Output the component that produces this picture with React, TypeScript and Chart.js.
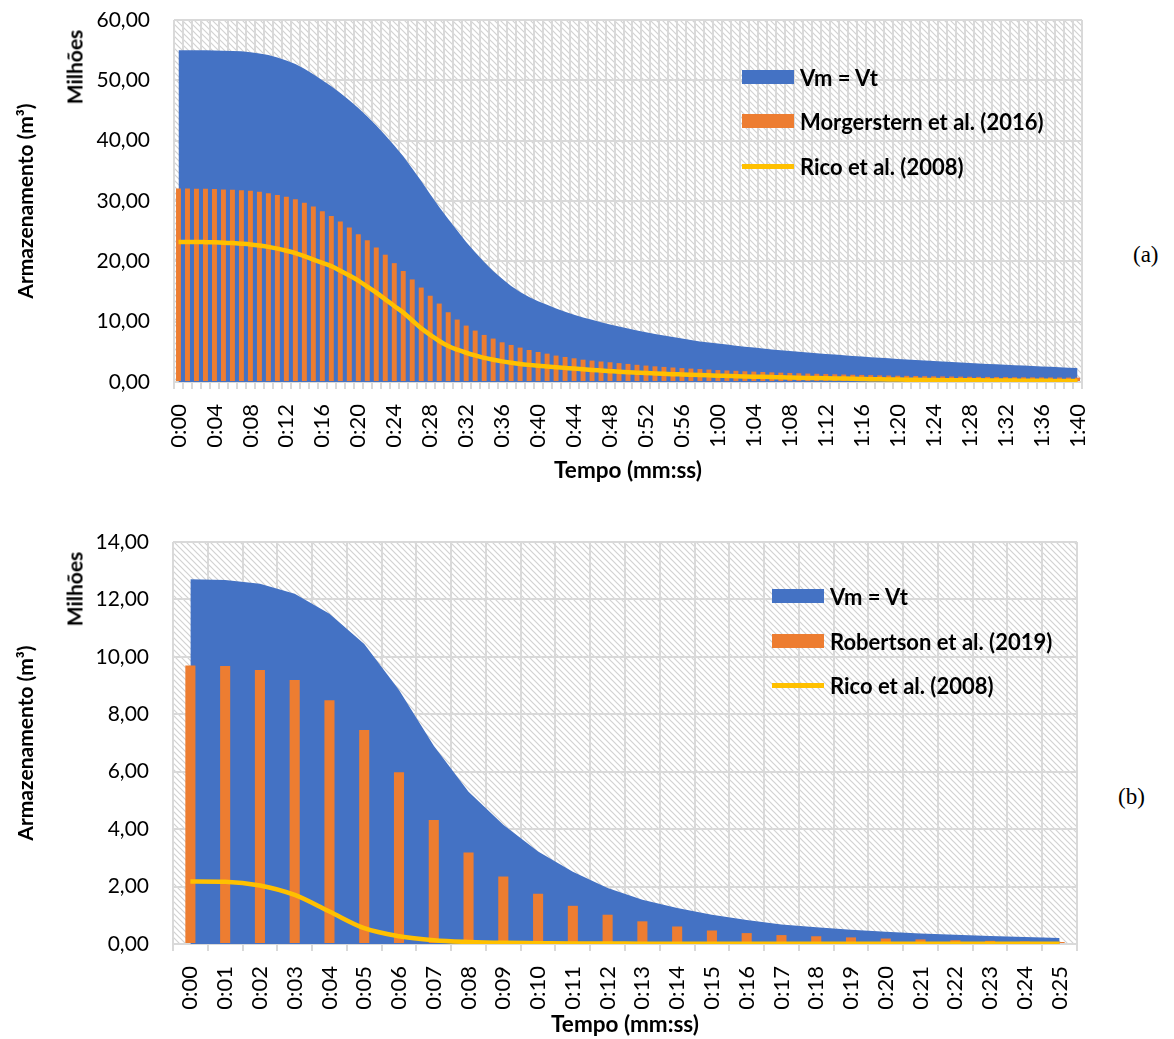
import React, { useEffect, useRef } from 'react';
import { Chart, registerables } from 'chart.js';

Chart.register(...registerables);

const BLUE = '#4472C4';
const ORANGE = '#ED7D31';
const YELLOW = '#FFC000';
const GRID = '#d9d9d9';
const FONT = 'Lato';

// ---------- Chart (a) ----------
const timeLabelsA = [
  '0:00', '0:01', '0:02', '0:03', '0:04', '0:05', '0:06', '0:07', '0:08', '0:09',
  '0:10', '0:11', '0:12', '0:13', '0:14', '0:15', '0:16', '0:17', '0:18', '0:19',
  '0:20', '0:21', '0:22', '0:23', '0:24', '0:25', '0:26', '0:27', '0:28', '0:29',
  '0:30', '0:31', '0:32', '0:33', '0:34', '0:35', '0:36', '0:37', '0:38', '0:39',
  '0:40', '0:41', '0:42', '0:43', '0:44', '0:45', '0:46', '0:47', '0:48', '0:49',
  '0:50', '0:51', '0:52', '0:53', '0:54', '0:55', '0:56', '0:57', '0:58', '0:59',
  '1:00', '1:01', '1:02', '1:03', '1:04', '1:05', '1:06', '1:07', '1:08', '1:09',
  '1:10', '1:11', '1:12', '1:13', '1:14', '1:15', '1:16', '1:17', '1:18', '1:19',
  '1:20', '1:21', '1:22', '1:23', '1:24', '1:25', '1:26', '1:27', '1:28', '1:29',
  '1:30', '1:31', '1:32', '1:33', '1:34', '1:35', '1:36', '1:37', '1:38', '1:39',
  '1:40',
];
const tickEveryA = 4;

const vmVtA = [
  55.0, 55.0, 55.0, 54.98, 54.95, 54.92, 54.88, 54.8, 54.65, 54.45,
  54.2, 53.8, 53.3, 52.7, 51.9, 51.0, 50.0, 49.0, 47.9, 46.7,
  45.4, 44.0, 42.5, 40.9, 39.2, 37.4, 35.4, 33.3, 31.1, 29.0,
  27.0, 25.1, 23.2, 21.5, 19.9, 18.4, 17.1, 15.9, 14.9, 14.1,
  13.4, 12.8, 12.2, 11.65, 11.15, 10.7, 10.3, 9.9, 9.55, 9.2,
  8.85, 8.55, 8.25, 7.95, 7.7, 7.45, 7.2, 6.95, 6.7, 6.55,
  6.4, 6.2, 6.02, 5.85, 5.7, 5.55, 5.4, 5.27, 5.14, 5.02,
  4.9, 4.78, 4.66, 4.55, 4.44, 4.33, 4.22, 4.12, 4.02, 3.92,
  3.83, 3.74, 3.65, 3.56, 3.48, 3.4, 3.32, 3.24, 3.16, 3.08,
  3.0, 2.93, 2.86, 2.79, 2.72, 2.65, 2.58, 2.51, 2.44, 2.37,
  2.3,
];

const morgersternA = [
  32.07, 32.07, 32.05, 32.05, 31.99, 31.9, 31.85, 31.8, 31.7, 31.55,
  31.3, 31.0, 30.7, 30.3, 29.7, 29.1, 28.3, 27.5, 26.6, 25.6,
  24.5, 23.5, 22.3, 21.1, 19.7, 18.4, 17.0, 15.65, 14.3, 13.0,
  11.56, 10.35, 9.35, 8.52, 7.8, 7.2, 6.58, 6.14, 5.7, 5.3,
  4.97, 4.7, 4.38, 4.15, 3.93, 3.7, 3.55, 3.4, 3.27, 3.13,
  3.0, 2.85, 2.72, 2.6, 2.5, 2.4, 2.3, 2.22, 2.14, 2.06,
  1.98, 1.91, 1.85, 1.78, 1.72, 1.66, 1.6, 1.55, 1.5, 1.45,
  1.4, 1.36, 1.32, 1.28, 1.24, 1.2, 1.17, 1.14, 1.1, 1.07,
  1.04, 1.02, 0.99, 0.97, 0.95, 0.93, 0.91, 0.89, 0.87, 0.85,
  0.84, 0.82, 0.81, 0.79, 0.78, 0.77, 0.76, 0.75, 0.74, 0.73,
  0.72,
];

const ricoA = [
  23.2, 23.2, 23.2, 23.18, 23.15, 23.1, 23.02, 22.92, 22.8, 22.62,
  22.4, 22.1, 21.75, 21.35, 20.85, 20.3, 19.75, 19.2, 18.45, 17.65,
  16.8, 15.8, 14.8, 13.7, 12.6, 11.5, 10.2, 8.9, 7.8, 6.8,
  5.95, 5.35, 4.85, 4.4, 4.0, 3.7, 3.42, 3.2, 3.0, 2.84,
  2.7, 2.58, 2.46, 2.34, 2.22, 2.11, 2.0, 1.9, 1.8, 1.7,
  1.62, 1.55, 1.48, 1.42, 1.36, 1.3, 1.25, 1.2, 1.15, 1.1,
  1.05, 1.01, 0.97, 0.93, 0.89, 0.85, 0.81, 0.77, 0.74, 0.71,
  0.68, 0.65, 0.62, 0.59, 0.56, 0.53, 0.5, 0.47, 0.45, 0.43,
  0.41, 0.39, 0.37, 0.35, 0.33, 0.31, 0.3, 0.29, 0.28, 0.27,
  0.26, 0.25, 0.24, 0.23, 0.22, 0.21, 0.2, 0.19, 0.18, 0.18,
  0.17,
];

// ---------- Chart (b) ----------
const timeLabelsB = [
  '0:00', '0:01', '0:02', '0:03', '0:04', '0:05', '0:06', '0:07', '0:08', '0:09',
  '0:10', '0:11', '0:12', '0:13', '0:14', '0:15', '0:16', '0:17', '0:18', '0:19',
  '0:20', '0:21', '0:22', '0:23', '0:24', '0:25',
];
const tickEveryB = 1;

const vmVtB = [
  12.7, 12.68, 12.55, 12.2, 11.5, 10.45, 8.85, 6.9, 5.3, 4.15,
  3.22, 2.52, 1.95, 1.54, 1.25, 1.02, 0.84, 0.68, 0.58, 0.5,
  0.43, 0.37, 0.32, 0.28, 0.24, 0.21,
];

const robertsonB = [
  9.7, 9.68, 9.54, 9.19, 8.49, 7.45, 5.98, 4.32, 3.19, 2.35,
  1.75, 1.33, 1.02, 0.79, 0.61, 0.47, 0.38, 0.31, 0.27, 0.23,
  0.19, 0.16, 0.13, 0.11, 0.09, 0.07,
];

const ricoB = [
  2.18, 2.17, 2.04, 1.71, 1.13, 0.55, 0.27, 0.13, 0.07, 0.04,
  0.03, 0.02, 0.02, 0.01, 0.01, 0.01, 0.01, 0.01, 0.01, 0.01,
  0.01, 0.01, 0.01, 0.01, 0.01, 0.01,
];

const yTicksA = { max: 60, step: 10 };
const yTicksB = { max: 14, step: 2 };

const fmt = (v: number) => v.toFixed(2).replace('.', ',');

const hatchPlugin = {
  id: 'hatchBg',
  beforeDraw(chart: any) {
    const { ctx, chartArea } = chart;
    if (!chartArea) return;
    const s = 6;
    const tile = document.createElement('canvas');
    tile.width = s;
    tile.height = s;
    const t = tile.getContext('2d')!;
    t.fillStyle = '#ffffff';
    t.fillRect(0, 0, s, s);
    t.strokeStyle = '#d2d2d2';
    t.lineWidth = 1.2;
    t.beginPath();
    t.moveTo(0, 0);
    t.lineTo(s, s);
    t.moveTo(-2, s - 2);
    t.lineTo(2, s + 2);
    t.moveTo(s - 2, -2);
    t.lineTo(s + 2, 2);
    t.stroke();
    const pat = ctx.createPattern(tile, 'repeat');
    ctx.save();
    ctx.fillStyle = pat;
    ctx.fillRect(chartArea.left, chartArea.top, chartArea.right - chartArea.left, chartArea.bottom - chartArea.top);
    ctx.restore();
  },
};

type Opts = {
  labels: string[];
  every: number;
  area: number[];
  bars: number[];
  line: number[];
  barLabel: string;
  barPct: number;
  yMax: number;
  yStep: number;
  W: number;
  H: number;
  left: number;
  top: number;
  right: number;
  bottom: number;
  xTitlePad: number;
};

function buildConfig(o: Opts): any {
  return {
    type: 'bar',
    data: {
      labels: o.labels,
      datasets: [
        {
          type: 'line',
          label: 'Rico et al. (2008)',
          data: o.line,
          borderColor: YELLOW,
          backgroundColor: YELLOW,
          borderWidth: 4.5,
          pointRadius: 0,
          fill: false,
          cubicInterpolationMode: 'monotone',
          order: 1,
        },
        {
          type: 'bar',
          label: o.barLabel,
          data: o.bars,
          backgroundColor: ORANGE,
          categoryPercentage: 1,
          barPercentage: o.barPct,
          order: 2,
        },
        {
          type: 'line',
          label: 'Vm = Vt',
          data: o.area,
          backgroundColor: BLUE,
          borderColor: BLUE,
          borderWidth: 0,
          pointRadius: 0,
          fill: 'origin',
          tension: 0,
          order: 3,
        },
      ],
    },
    options: {
      responsive: false,
      animation: false,
      events: [],
      layout: { padding: { left: 0, top: o.top, right: o.W - o.right, bottom: 0 } },
      plugins: { legend: { display: false }, tooltip: { enabled: false } },
      scales: {
        x: {
          offset: true,
          grid: { offset: true, color: GRID, lineWidth: 2, tickLength: 7, drawTicks: true },
          border: { color: GRID, width: 2 },
          ticks: {
            autoSkip: false,
            maxRotation: 90,
            minRotation: 90,
            padding: 15,
            color: '#000',
            font: { family: FONT, size: 22 },
            callback: (_v: any, i: number) => (i % o.every === 0 ? o.labels[i] : ''),
          },
          title: {
            display: true,
            text: 'Tempo (mm:ss)',
            color: '#000',
            font: { family: FONT, size: 22.5, weight: 'bold' },
            padding: { top: 0, bottom: o.xTitlePad },
          },
          afterFit: (s: any) => {
            s.height = o.H - o.bottom;
            s.paddingLeft = 0;
            s.paddingRight = 0;
          },
        },
        y: {
          min: 0,
          max: o.yMax,
          ticks: {
            stepSize: o.yStep,
            padding: 24,
            color: '#000',
            font: { family: FONT, size: 21 },
            callback: (v: any) => fmt(Number(v)),
          },
          grid: { color: GRID, lineWidth: 2, drawTicks: false },
          border: { display: false },
          title: {
            display: true,
            text: 'Armazenamento (m³)',
            color: '#000',
            font: { family: FONT, size: 21, weight: 'bold' },
            padding: { top: 14, bottom: 0 },
          },
          afterFit: (s: any) => {
            s.width = o.left;
            s.paddingTop = 0;
            s.paddingBottom = 0;
          },
        },
      },
    },
    plugins: [hatchPlugin],
  };
}

const CANVAS_W = 1100;
const A_TOP = 0;
const A_H = 500;
const B_TOP = 500;
const B_H = 539;

function useChart(ref: React.RefObject<HTMLCanvasElement>, cfg: () => any) {
  useEffect(() => {
    if (!ref.current) return;
    const chart = new Chart(ref.current, cfg());
    return () => chart.destroy();
  }, []);
}

type LegendItem = { label: string; color: string; kind: 'rect' | 'line'; cy: number };

function Legend({ items, markerLeft }: { items: LegendItem[]; markerLeft: number }) {
  return (
    <>
      {items.map((it) => (
        <div
          key={it.label}
          style={{
            position: 'absolute',
            left: markerLeft,
            top: it.cy - 15,
            height: 30,
            display: 'flex',
            alignItems: 'center',
            whiteSpace: 'nowrap',
          }}
        >
          <div
            style={{
              width: 52,
              height: it.kind === 'rect' ? 14 : 4.5,
              background: it.color,
              marginRight: 6,
            }}
          />
          <span style={{ fontFamily: FONT, fontWeight: 700, fontSize: 22, color: '#000' }}>{it.label}</span>
        </div>
      ))}
    </>
  );
}

function Rotated({ text, cx, cy }: { text: string; cx: number; cy: number }) {
  return (
    <div
      style={{
        position: 'absolute',
        left: cx,
        top: cy,
        transform: 'translate(-50%, -50%) rotate(-90deg)',
        fontFamily: FONT,
        fontWeight: 700,
        fontSize: 21,
        lineHeight: 1,
        whiteSpace: 'nowrap',
        color: '#000',
      }}
    >
      {text}
    </div>
  );
}

export default function App() {
  const refA = useRef<HTMLCanvasElement>(null);
  const refB = useRef<HTMLCanvasElement>(null);

  useChart(refA, () =>
    buildConfig({
      labels: timeLabelsA,
      every: tickEveryA,
      area: vmVtA,
      bars: morgersternA,
      line: ricoA,
      barLabel: 'Morgerstern et al. (2016)',
      barPct: 0.55,
      yMax: yTicksA.max,
      yStep: yTicksA.step,
      W: CANVAS_W,
      H: A_H,
      left: 174,
      top: 20,
      right: 1082,
      bottom: 382,
      xTitlePad: 16,
    })
  );

  useChart(refB, () =>
    buildConfig({
      labels: timeLabelsB,
      every: tickEveryB,
      area: vmVtB,
      bars: robertsonB,
      line: ricoB,
      barLabel: 'Robertson et al. (2019)',
      barPct: 0.29,
      yMax: yTicksB.max,
      yStep: yTicksB.step,
      W: CANVAS_W,
      H: B_H,
      left: 173,
      top: 42,
      right: 1077,
      bottom: 444,
      xTitlePad: 1,
    })
  );

  return (
    <div style={{ position: 'absolute', left: 0, top: 0, width: 1174, height: 1039, background: '#fff' }}>
      <canvas
        ref={refA}
        width={CANVAS_W}
        height={A_H}
        style={{ position: 'absolute', left: 0, top: A_TOP, width: CANVAS_W, height: A_H }}
      />
      <canvas
        ref={refB}
        width={CANVAS_W}
        height={B_H}
        style={{ position: 'absolute', left: 0, top: B_TOP, width: CANVAS_W, height: B_H }}
      />
      <Rotated text="Milhões" cx={74} cy={67} />
      <Rotated text="Milhões" cx={74} cy={589} />
      <Legend
        markerLeft={742}
        items={[
          { label: 'Vm = Vt', color: BLUE, kind: 'rect', cy: 77 },
          { label: 'Morgerstern et al. (2016)', color: ORANGE, kind: 'rect', cy: 121 },
          { label: 'Rico et al. (2008)', color: YELLOW, kind: 'line', cy: 166.5 },
        ]}
      />
      <Legend
        markerLeft={772}
        items={[
          { label: 'Vm = Vt', color: BLUE, kind: 'rect', cy: 596 },
          { label: 'Robertson et al. (2019)', color: ORANGE, kind: 'rect', cy: 641 },
          { label: 'Rico et al. (2008)', color: YELLOW, kind: 'line', cy: 685.5 },
        ]}
      />
      <div
        style={{
          position: 'absolute',
          left: 1133,
          top: 243,
          fontFamily: '"Liberation Serif", "DejaVu Serif", serif',
          fontSize: 23,
          lineHeight: 1,
          color: '#000',
        }}
      >
        (a)
      </div>
      <div
        style={{
          position: 'absolute',
          left: 1118,
          top: 785,
          fontFamily: '"Liberation Serif", "DejaVu Serif", serif',
          fontSize: 23,
          lineHeight: 1,
          color: '#000',
        }}
      >
        (b)
      </div>
    </div>
  );
}
